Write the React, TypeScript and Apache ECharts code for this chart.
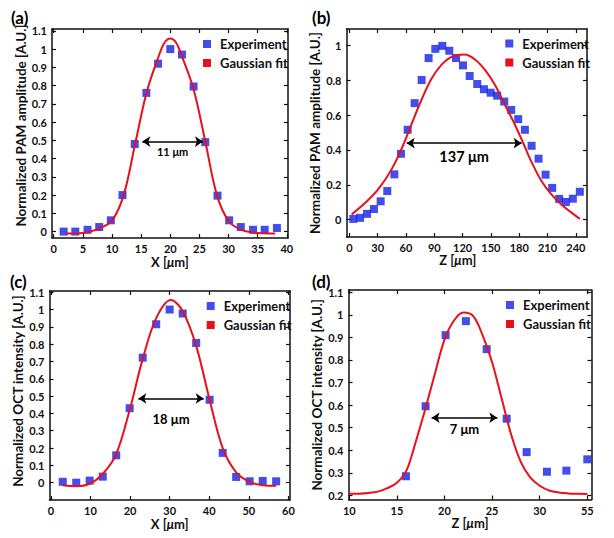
import React, { useEffect, useRef } from 'react';
import * as echarts from 'echarts';

const FONT = 'Lato, "Open Sans", "Liberation Sans", sans-serif';
const BLUE = '#1420e6';
const RED = '#e8101c';
const INK = '#111111';

// ---------- Panel (a) ----------
const aExpX = [1.7, 3.7, 5.8, 7.8, 9.8, 11.8, 13.9, 15.9, 17.9, 20, 22, 24, 26, 28.1, 30.1, 32.1, 34.2, 36.2, 38.3];
const aExpY = [0, 0, 0.01, 0.025, 0.062, 0.2, 0.48, 0.76, 0.92, 1.0, 0.97, 0.795, 0.49, 0.197, 0.062, 0.025, 0.01, 0.01, 0.02];
const aFitX = [2, 4, 6, 8, 10, 12, 14, 16, 18, 19, 20, 21, 22, 24, 26, 28, 30, 32, 34, 36, 38];
const aFitY = [-0.01, -0.01, -0.002, 0.02, 0.06, 0.2, 0.485, 0.77, 0.96, 1.035, 1.058, 1.035, 0.96, 0.78, 0.495, 0.2, 0.058, 0.012, -0.004, -0.009, -0.01];
const aXTicks = [0, 5, 10, 15, 20, 25, 30, 35, 40];
const aXLabels = ['0', '5', '10', '15', '20', '25', '30', '35', '40'];
const aYTicks = [0, 0.1, 0.2, 0.3, 0.4, 0.5, 0.6, 0.7, 0.8, 0.9, 1, 1.1];
const aYLabels = ['0', '0.1', '0.2', '0.3', '0.4', '0.5', '0.6', '0.7', '0.8', '0.9', '1', '1.1'];
const aFwhm = { x0: 15.2, x1: 25.6, y: 0.493, text: '11 μm' };

// ---------- Panel (b) ----------
const bExpX = [4.2, 11.3, 18.7, 26.1, 33.2, 40.2, 47.7, 54.7, 61.8, 69.2, 76.6, 84, 91.1, 98.5, 105.9, 113, 120.4, 127.5, 135.5, 142.6, 149.7, 156.7, 164.1, 171.5, 178.9, 186, 193.1, 200.5, 207.9, 214.9, 222.3, 229.4, 236.8, 244.2];
const bExpY = [0.004, 0.01, 0.033, 0.061, 0.105, 0.164, 0.26, 0.378, 0.516, 0.669, 0.802, 0.928, 0.981, 0.998, 0.97, 0.928, 0.886, 0.825, 0.779, 0.749, 0.729, 0.712, 0.678, 0.63, 0.577, 0.516, 0.424, 0.35, 0.258, 0.182, 0.119, 0.101, 0.12, 0.16];
const bFitX = [2.5, 16.6, 30.7, 44.9, 57.2, 66, 76.6, 87.2, 97.8, 108.4, 122, 133.1, 143.7, 154.2, 164.8, 175.4, 184.2, 193.1, 203.7, 214.3, 224.9, 235.4, 244.2];
const bFitY = [0.03, 0.095, 0.175, 0.29, 0.43, 0.55, 0.69, 0.81, 0.89, 0.935, 0.948, 0.92, 0.86, 0.775, 0.66, 0.545, 0.44, 0.33, 0.22, 0.143, 0.085, 0.04, 0.004];
const bXTicks = [0, 30, 60, 90, 120, 150, 180, 210, 240];
const bXLabels = ['0', '30', '60', '90', '120', '150', '180', '210', '240'];
const bYTicks = [0, 0.2, 0.4, 0.6, 0.8, 1];
const bYLabels = ['0', '0.2', '0.4', '0.6', '0.8', '1'];
const bFwhm = { x0: 60.8, x1: 182.5, y: 0.439, text: '137 μm' };

// ---------- Panel (c) ----------
const cExpX = [3.0, 6.4, 9.8, 13.1, 16.5, 19.9, 23.2, 26.6, 30.0, 33.3, 36.7, 40.1, 43.4, 46.8, 50.2, 53.5, 56.9];
const cExpY = [0.005, 0.0, 0.012, 0.035, 0.158, 0.43, 0.722, 0.915, 1.0, 0.977, 0.807, 0.479, 0.172, 0.033, 0.008, 0.01, 0.008];
const cFitX = [3.0, 6.4, 9.8, 13.1, 16.5, 19.9, 23.2, 26.6, 30.3, 33.3, 36.7, 40.1, 43.4, 46.8, 50.2, 53.5, 56.9];
const cFitY = [-0.015, -0.02, -0.006, 0.05, 0.165, 0.42, 0.715, 0.95, 1.055, 0.99, 0.79, 0.478, 0.2, 0.06, 0.005, -0.015, -0.018];
const cXTicks = [0, 10, 20, 30, 40, 50, 60];
const cXLabels = ['0', '10', '20', '30', '40', '50', '60'];
const cYTicks = [0, 0.1, 0.2, 0.3, 0.4, 0.5, 0.6, 0.7, 0.8, 0.9, 1, 1.1];
const cYLabels = ['0', '0.1', '0.2', '0.3', '0.4', '0.5', '0.6', '0.7', '0.8', '0.9', '1', '1.1'];
const cFwhm = { x0: 22.1, x1: 38.6, y: 0.486, text: '18 μm' };

// ---------- Panel (d) ----------
const dExpX = [15.95, 18.02, 20.12, 22.25, 24.43, 26.53, 28.63, 30.76, 32.8, 35.0];
const dExpY = [0.285, 0.595, 0.91, 0.972, 0.848, 0.54, 0.392, 0.305, 0.31, 0.36];
const dFitX = [10, 11, 12, 13, 14, 15, 16, 17, 18, 19, 20, 21, 22, 23, 24, 25, 26, 27, 28, 29, 30, 31, 32, 33, 34, 35];
const dFitY = [0.207, 0.208, 0.211, 0.217, 0.232, 0.256, 0.31, 0.44, 0.585, 0.74, 0.89, 0.975, 1.01, 0.995, 0.91, 0.79, 0.63, 0.47, 0.35, 0.28, 0.243, 0.222, 0.213, 0.209, 0.207, 0.206];
const dXTicks = [10, 15, 20, 25, 30, 35];
const dXLabels = ['10', '15', '20', '25', '30', '55'];
const dYTicks = [0.2, 0.3, 0.4, 0.5, 0.6, 0.7, 0.8, 0.9, 1, 1.1];
const dYLabels = ['0.2', '0.3', '0.4', '0.5', '0.6', '0.7', '0.8', '0.9', '1', '1.1'];
const dFwhm = { x0: 18.65, x1: 25.55, y: 0.544, text: '7 μm' };

const AMP = 'Normalized PAM amplitude [A.U.]';
const OCT = 'Normalized OCT intensity [A.U.]';

type Panel = {
  tag: string;
  tagPos: [number, number];
  grid: { left: number; top: number; width: number; height: number };
  xRange: [number, number];
  yRange: [number, number];
  xTicks: number[]; xLabels: string[];
  yTicks: number[]; yLabels: string[];
  xName: string; yName: string;
  xNameGap: number; yNameGap: number;
  xNamePad: number[]; yNamePad: number[];
  expX: number[]; expY: number[]; fitX: number[]; fitY: number[];
  fwhm: { x0: number; x1: number; y: number; text: string };
  fwhmFont: number; fwhmDist: number;
  legend: { left: number; top: number };
};

const panels: Panel[] = [
  {
    tag: '(a)', tagPos: [11, 19],
    grid: { left: 52, top: 29, width: 236, height: 209 },
    xRange: [-0.3, 40.2], yRange: [-0.035, 1.11],
    xTicks: aXTicks, xLabels: aXLabels, yTicks: aYTicks, yLabels: aYLabels,
    xName: 'X [{i|μ}m]', yName: AMP, xNameGap: 17, yNameGap: 24,
    xNamePad: [0, 0, 0, 0], yNamePad: [0, 0, 0, 16],
    expX: aExpX, expY: aExpY, fitX: aFitX, fitY: aFitY,
    fwhm: aFwhm, fwhmFont: 11, fwhmDist: 4.5,
    legend: { left: 203, top: 37.5 },
  },
  {
    tag: '(b)', tagPos: [312, 19],
    grid: { left: 346.5, top: 29, width: 240.5, height: 208 },
    xRange: [-3, 251.8], yRange: [-0.1, 1.095],
    xTicks: bXTicks, xLabels: bXLabels, yTicks: bYTicks, yLabels: bYLabels,
    xName: 'Z [{i|μ}m]', yName: AMP, xNameGap: 16, yNameGap: 21,
    xNamePad: [0, 18, 0, 0], yNamePad: [0, 0, 0, 0],
    expX: bExpX, expY: bExpY, fitX: bFitX, fitY: bFitY,
    fwhm: bFwhm, fwhmFont: 14.5, fwhmDist: 5.5,
    legend: { left: 505.3, top: 37 },
  },
  {
    tag: '(c)', tagPos: [10, 283],
    grid: { left: 49.5, top: 291, width: 240.5, height: 209 },
    xRange: [-0.35, 60.4], yRange: [-0.1, 1.107],
    xTicks: cXTicks, xLabels: cXLabels, yTicks: cYTicks, yLabels: cYLabels,
    xName: 'X [{i|μ}m]', yName: OCT, xNameGap: 17, yNameGap: 24,
    xNamePad: [0, 0, 0, 0], yNamePad: [0, 0, 0, 9],
    expX: cExpX, expY: cExpY, fitX: cFitX, fitY: cFitY,
    fwhm: cFwhm, fwhmFont: 13, fwhmDist: 14,
    legend: { left: 206.7, top: 299.5 },
  },
  {
    tag: '(d)', tagPos: [312, 282.5],
    grid: { left: 348.5, top: 290, width: 243, height: 209.5 },
    xRange: [9.92, 35.44], yRange: [0.182, 1.11],
    xTicks: dXTicks, xLabels: dXLabels, yTicks: dYTicks, yLabels: dYLabels,
    xName: 'Z [{i|μ}m]', yName: OCT, xNameGap: 16, yNameGap: 23,
    xNamePad: [0, 0, 0, 0], yNamePad: [0, 0, 0, 0],
    expX: dExpX, expY: dExpY, fitX: dFitX, fitY: dFitY,
    fwhm: dFwhm, fwhmFont: 13, fwhmDist: 4.5,
    legend: { left: 506, top: 298.5 },
  },
];

function labelFor(ticks: number[], labels: string[]) {
  return (v: number) => {
    for (let k = 0; k < ticks.length; k++) {
      if (Math.abs(ticks[k] - v) < 1e-6) return labels[k];
    }
    return '';
  };
}

const tickLabelStyle = { fontFamily: FONT, fontWeight: 'bold' as const, fontSize: 11, color: INK };
const yNameStyle = { fontFamily: FONT, fontWeight: 'bold' as const, fontSize: 13.5, color: INK };
const xNameStyle = { fontFamily: FONT, fontWeight: 'bold' as const, fontSize: 13, color: INK };

function buildOption() {
  const xAxis: any[] = [];
  const yAxis: any[] = [];
  const series: any[] = [];
  const legend: any[] = [];
  const grid: any[] = [];
  const graphic: any[] = [];

  panels.forEach((p, i) => {
    grid.push({ ...p.grid, containLabel: false });
    const lineStyle = { color: INK, width: 1.5 };
    const tickStyle = { color: INK, width: 1.2 };
    xAxis.push({
      type: 'value', gridIndex: i, position: 'bottom', min: p.xRange[0], max: p.xRange[1],
      axisLine: { show: true, onZero: false, lineStyle },
      axisTick: { show: true, inside: true, length: 4, customValues: p.xTicks, lineStyle: tickStyle },
      axisLabel: { show: true, customValues: p.xTicks, formatter: labelFor(p.xTicks, p.xLabels), margin: 5, ...tickLabelStyle },
      splitLine: { show: false },
      name: p.xName, nameLocation: 'middle', nameGap: p.xNameGap,
      nameTextStyle: { ...xNameStyle, padding: p.xNamePad, rich: { i: { ...xNameStyle, fontStyle: 'italic' } } },
    });
    xAxis.push({
      type: 'value', gridIndex: i, position: 'top', min: p.xRange[0], max: p.xRange[1],
      axisLine: { show: true, onZero: false, lineStyle },
      axisTick: { show: true, inside: true, length: 4, customValues: p.xTicks, lineStyle: tickStyle },
      axisLabel: { show: false },
      splitLine: { show: false },
    });
    yAxis.push({
      type: 'value', gridIndex: i, position: 'left', min: p.yRange[0], max: p.yRange[1],
      axisLine: { show: true, onZero: false, lineStyle },
      axisTick: { show: true, inside: true, length: 4, customValues: p.yTicks, lineStyle: tickStyle },
      axisLabel: { show: true, customValues: p.yTicks, formatter: labelFor(p.yTicks, p.yLabels), margin: 5, ...tickLabelStyle },
      splitLine: { show: false },
      name: p.yName, nameLocation: 'middle', nameGap: p.yNameGap,
      nameTextStyle: { ...yNameStyle, padding: p.yNamePad },
    });
    yAxis.push({
      type: 'value', gridIndex: i, position: 'right', min: p.yRange[0], max: p.yRange[1],
      axisLine: { show: true, onZero: false, lineStyle },
      axisTick: { show: true, inside: true, length: 4, customValues: p.yTicks, lineStyle: tickStyle },
      axisLabel: { show: false },
      splitLine: { show: false },
    });

    series.push({
      type: 'scatter', name: 'Experiment', xAxisIndex: 2 * i, yAxisIndex: 2 * i,
      data: p.expX.map((x, k) => [x, p.expY[k]]),
      symbol: 'rect', symbolSize: 8, itemStyle: { color: BLUE }, z: 3, silent: true,
    });
    series.push({
      type: 'line', name: 'Gaussian fit', xAxisIndex: 2 * i, yAxisIndex: 2 * i,
      data: p.fitX.map((x, k) => [x, p.fitY[k]]),
      showSymbol: false, symbol: 'none', smooth: 0.35,
      lineStyle: { color: RED, width: 2 }, itemStyle: { color: RED }, z: 4, silent: true,
      markLine: {
        silent: true, symbol: ['arrow', 'arrow'], symbolSize: 8, animation: false,
        lineStyle: { color: '#000', width: 1.5, type: 'solid' },
        label: {
          show: true, position: 'insideMiddleBottom', distance: p.fwhmDist,
          formatter: p.fwhm.text, color: '#000', fontFamily: FONT, fontWeight: 'bold', fontSize: p.fwhmFont,
        },
        data: [[{ coord: [p.fwhm.x0, p.fwhm.y] }, { coord: [p.fwhm.x1, p.fwhm.y] }]],
      },
    });

    legend.push({
      left: p.legend.left, top: p.legend.top, orient: 'vertical', padding: 0,
      itemWidth: 8, itemHeight: 8, itemGap: 6, selectedMode: false,
      data: [{ name: 'Experiment', icon: 'rect' }, { name: 'Gaussian fit', icon: 'rect' }],
      textStyle: { fontFamily: FONT, fontWeight: 'bold', fontSize: 13, color: INK, padding: [0, 0, 0, 4] },
    });

    graphic.push({
      type: 'text', left: p.tagPos[0], top: p.tagPos[1] - 10,
      style: { text: p.tag, font: `bold 17px ${FONT}`, fill: '#000' },
    });
  });

  return { animation: false, backgroundColor: '#ffffff', grid, xAxis, yAxis, series, legend, graphic };
}

export default function App() {
  const ref = useRef<HTMLDivElement>(null);
  useEffect(() => {
    if (!ref.current) return;
    const chart = echarts.init(ref.current, null, { renderer: 'svg' });
    chart.setOption(buildOption() as any);
    return () => chart.dispose();
  }, []);
  return (
    <div
      ref={ref}
      style={{ position: 'absolute', left: 0, top: 0, width: 614, height: 538, background: '#fff' }}
    />
  );
}
